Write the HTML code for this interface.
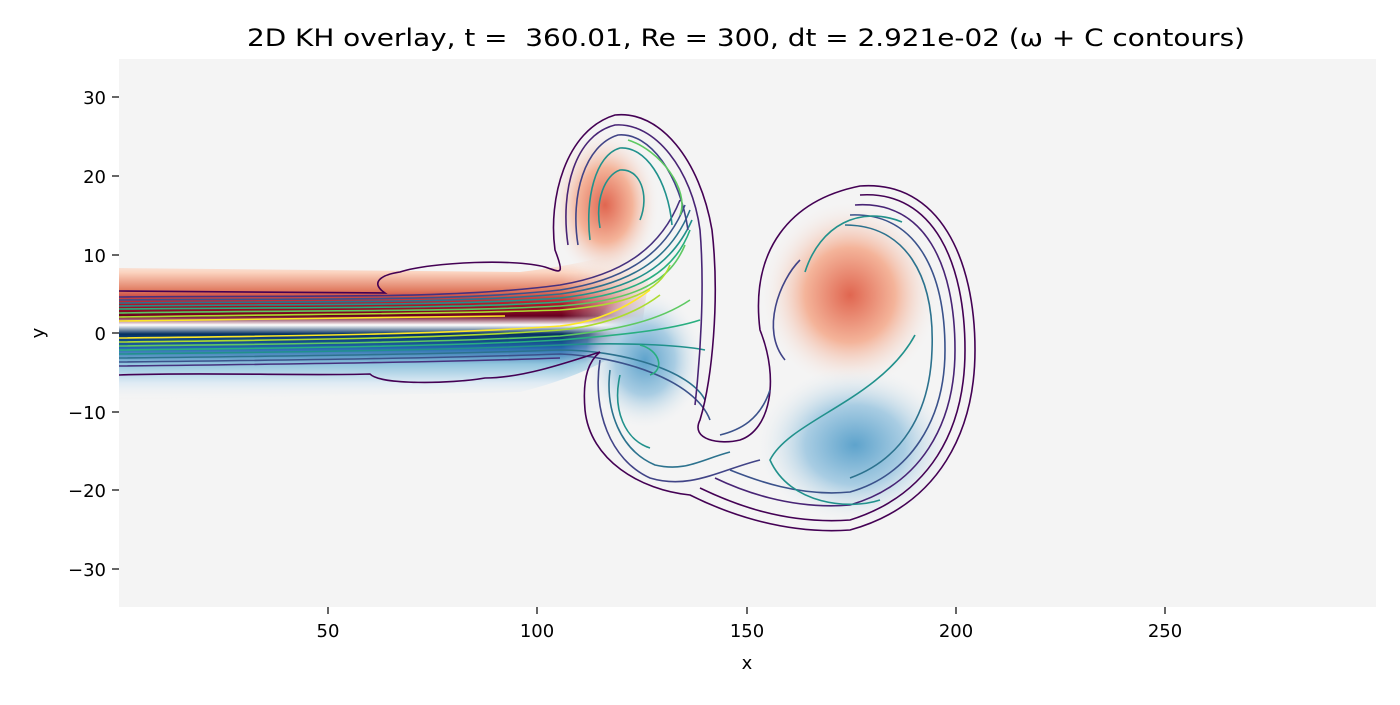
<!DOCTYPE html>
<html><head><meta charset="utf-8"><style>
body{margin:0;background:#fff;}
svg text{font-family:"DejaVu Sans","Liberation Sans",sans-serif;fill:#000}
</style></head><body>
<svg width="1400" height="700" viewBox="0 0 1400 700" xmlns="http://www.w3.org/2000/svg">
<defs>
<radialGradient id="r1" cx="0.5" cy="0.5" r="0.5"><stop offset="0" stop-color="#e06650"/><stop offset="0.5" stop-color="#f4b49a"/><stop offset="1" stop-color="#f4f4f4" stop-opacity="0"/></radialGradient>
<radialGradient id="b1" cx="0.5" cy="0.5" r="0.5"><stop offset="0" stop-color="#5ea3cc"/><stop offset="0.5" stop-color="#a9cde3"/><stop offset="1" stop-color="#f4f4f4" stop-opacity="0"/></radialGradient>
<linearGradient id="band" x1="0" y1="0" x2="0" y2="1">
<stop offset="0" stop-color="#f4f4f4" stop-opacity="0"/>
<stop offset="0.15" stop-color="#fbd3bf"/>
<stop offset="0.27" stop-color="#e07a60"/>
<stop offset="0.36" stop-color="#b2182b"/>
<stop offset="0.44" stop-color="#67001f"/>
<stop offset="0.5" stop-color="#ffffff"/>
<stop offset="0.56" stop-color="#053061"/>
<stop offset="0.65" stop-color="#2166ac"/>
<stop offset="0.76" stop-color="#92c5de"/>
<stop offset="0.88" stop-color="#dbe9f3"/>
<stop offset="1" stop-color="#f4f4f4" stop-opacity="0"/>
</linearGradient>
<linearGradient id="fade" x1="0" y1="0" x2="1" y2="0"><stop offset="0.82" stop-color="#fff"/><stop offset="1" stop-color="#000"/></linearGradient>
<mask id="m"><rect x="119" y="0" width="540" height="700" fill="url(#fade)"/></mask>
</defs>
<rect x="119" y="59" width="1257" height="548" fill="#f4f4f4"/>
<path d="M119,268 L520,272 Q580,265 630,250 L650,270 L640,340 Q590,375 520,392 L119,400 Z" fill="url(#band)" mask="url(#m)"/>
<ellipse cx="605" cy="205" rx="55" ry="75" fill="url(#r1)"/>
<ellipse cx="645" cy="360" rx="60" ry="70" fill="url(#b1)"/>
<ellipse cx="850" cy="295" rx="90" ry="95" fill="url(#r1)"/>
<ellipse cx="855" cy="445" rx="100" ry="80" fill="url(#b1)"/>
<g fill="none" stroke-width="1.6">
<path d="M119,297 C300,295 450,300 560,285 C620,275 660,250 680,200" stroke="#46317e"/>
<path d="M119,300 C300,298 450,302 560,290 C625,280 665,255 685,205" stroke="#3b528b"/>
<path d="M119,303 C300,301 450,304 560,294 C630,285 670,260 690,210" stroke="#2c728e"/>
<path d="M119,306 C300,304 450,306 560,298 C635,290 672,265 692,220" stroke="#21918c"/>
<path d="M119,309 C300,307 450,309 560,302 C640,295 675,270 690,230" stroke="#28ae80"/>
<path d="M119,313 C300,310 450,312 560,306 C640,300 670,280 685,245" stroke="#5ec962"/>
<path d="M119,317 C300,314 450,314 560,310 C630,305 660,290 670,265" stroke="#addc30"/>
<path d="M119,321 C300,318 420,318 505,316" stroke="#fde725"/>
<path d="M119,338 C300,336 450,334 560,326 C600,322 630,305 650,290" stroke="#fde725"/>
<path d="M119,342 C300,340 450,338 560,330 C610,325 640,310 660,295" stroke="#addc30"/>
<path d="M119,346 C300,344 450,342 560,336 C620,330 660,320 690,300" stroke="#5ec962"/>
<path d="M119,350 C300,348 450,346 560,340 C620,335 670,330 700,320" stroke="#28ae80"/>
<path d="M119,354 C300,352 450,350 560,345 C620,342 680,345 705,350" stroke="#21918c"/>
<path d="M119,358 C300,356 450,354 560,350 C620,350 690,370 705,400" stroke="#2c728e"/>
<path d="M119,362 C300,360 450,358 560,354 C620,356 695,380 710,420" stroke="#3b528b"/>
<path d="M119,366 C300,364 450,362 560,358" stroke="#46317e"/>
<path d="M119,291 C250,292 340,292 385,293 C370,283 380,275 400,272 C430,262 520,258 548,268 C560,272 565,276 555,250 C548,200 565,130 615,115 C660,110 700,160 712,230 C720,300 712,380 700,420 C690,440 720,445 740,440 C770,430 780,380 760,330 C750,250 790,200 860,186 C940,180 975,260 975,350 C975,430 940,505 850,530 C780,535 720,510 690,495 C640,490 590,460 585,410 C582,375 590,360 600,352 C560,365 520,378 485,378 C450,384 380,385 370,374 C300,376 200,372 119,375" stroke="#440154"/>
<path d="M568,245 C560,190 575,135 615,125 C655,122 692,170 700,230 C705,290 700,360 695,405" stroke="#482475"/>
<path d="M578,245 C570,195 585,145 618,135 C650,132 680,175 688,230" stroke="#414487"/>
<path d="M590,240 C585,200 595,155 620,148 C645,146 668,180 672,225" stroke="#21918c"/>
<path d="M600,228 C595,200 605,175 620,170 C640,168 650,195 640,220" stroke="#21918c"/>
<path d="M628,140 C660,150 690,190 680,215" stroke="#5ec962"/>
<path d="M600,360 C592,410 610,460 650,478 C690,490 720,470 760,460" stroke="#414487"/>
<path d="M610,370 C605,410 620,450 655,465 C685,472 700,460 730,452" stroke="#2c728e"/>
<path d="M620,375 C612,410 625,440 650,448" stroke="#21918c"/>
<path d="M640,345 C660,350 665,370 650,375" stroke="#28ae80"/>
<path d="M860,195 C935,190 965,265 965,350 C965,430 930,495 850,520 C780,525 725,500 700,488" stroke="#440154"/>
<path d="M855,205 C925,200 955,265 955,350 C955,425 920,485 850,505 C790,510 740,490 715,478" stroke="#482475"/>
<path d="M850,215 C915,212 945,270 945,350 C945,420 910,475 850,492 C800,497 755,480 730,470" stroke="#3b528b"/>
<path d="M845,225 C905,225 935,275 932,350 C930,415 900,460 850,478" stroke="#2c728e"/>
<path d="M805,272 C820,225 860,205 902,222" stroke="#21918c"/>
<path d="M915,335 C880,400 790,420 770,460 C790,505 850,510 880,500" stroke="#21918c"/>
<path d="M785,360 C760,330 780,280 800,260" stroke="#414487"/>
<path d="M770,390 C760,420 740,430 720,435" stroke="#3b528b"/>
</g>
<g stroke="#000" stroke-width="1.2">
<line x1="112" y1="97" x2="119" y2="97"/><line x1="112" y1="176" x2="119" y2="176"/><line x1="112" y1="255" x2="119" y2="255"/><line x1="112" y1="333" x2="119" y2="333"/><line x1="112" y1="412" x2="119" y2="412"/><line x1="112" y1="490" x2="119" y2="490"/><line x1="112" y1="569" x2="119" y2="569"/>
<line x1="328" y1="607" x2="328" y2="614"/><line x1="537" y1="607" x2="537" y2="614"/><line x1="747" y1="607" x2="747" y2="614"/><line x1="956" y1="607" x2="956" y2="614"/><line x1="1165" y1="607" x2="1165" y2="614"/>
</g>
<g font-size="18" text-anchor="end">
<text x="106" y="104">30</text><text x="106" y="183">20</text><text x="106" y="262">10</text><text x="106" y="340">0</text><text x="106" y="419">−10</text><text x="106" y="497">−20</text><text x="106" y="576">−30</text>
</g>
<g font-size="18" text-anchor="middle">
<text x="328" y="637">50</text><text x="537" y="637">100</text><text x="747" y="637">150</text><text x="956" y="637">200</text><text x="1165" y="637">250</text>
<text x="747" y="669">x</text>
<text x="44" y="333" transform="rotate(-90 44 333)">y</text>
</g>
<text x="247" y="46" font-size="24" textLength="998" lengthAdjust="spacingAndGlyphs" xml:space="preserve">2D KH overlay, t =  360.01, Re = 300, dt = 2.921e-02 (ω + C contours)</text>
</svg>
</body></html>
